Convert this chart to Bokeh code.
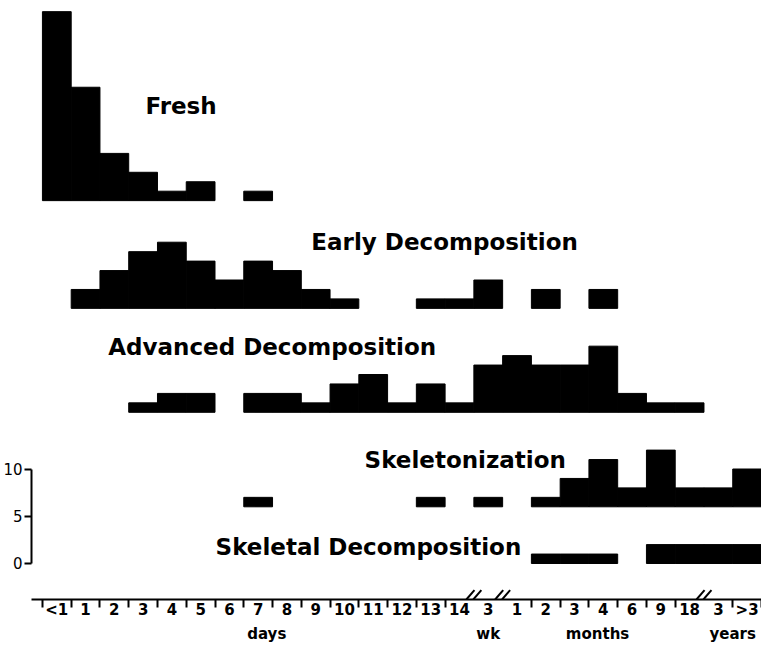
from bokeh.plotting import figure
from bokeh.models import Range1d, LinearAxis, FixedTicker, ColumnDataSource
from bokeh.core.properties import value
from bokeh.embed import file_html
from bokeh.resources import INLINE

# ---- data ----
tick_labels = ["<1", "1", "2", "3", "4", "5", "6", "7", "8", "9", "10", "11", "12", "13", "14",
               "3", "1", "2", "3", "4", "6", "9", "18", "3", ">3"]
group_names = ["days", "wk", "months", "years"]
series_names = ["Fresh", "Early Decomposition", "Advanced Decomposition",
                "Skeletonization", "Skeletal Decomposition"]
fresh = [20, 12, 5, 3, 1, 2, 0, 1, 0, 0, 0, 0, 0, 0, 0, 0, 0, 0, 0, 0, 0, 0, 0, 0, 0]
early = [0, 2, 4, 6, 7, 5, 3, 5, 4, 2, 1, 0, 0, 1, 1, 3, 0, 2, 0, 2, 0, 0, 0, 0, 0]
advanced = [0, 0, 0, 1, 2, 2, 0, 2, 2, 1, 3, 4, 1, 3, 1, 5, 6, 5, 5, 7, 2, 1, 1, 0, 0]
skeletonization = [0, 0, 0, 0, 0, 0, 0, 1, 0, 0, 0, 0, 0, 1, 0, 1, 0, 1, 3, 5, 2, 6, 2, 2, 4]
skeletal = [0, 0, 0, 0, 0, 0, 0, 0, 0, 0, 0, 0, 0, 0, 0, 0, 0, 1, 1, 1, 0, 2, 2, 2, 2]
scale_ticks = [0, 5, 10]

# ---- layout ----
row_base = [38.4, 27.0, 16.0, 6.0, 0.0]
label_x = [3.08, 8.85, 1.79, 10.7, 5.52]
label_y = [48.4, 34.0, 22.9, 10.95, 1.74]
group_pos = [7.3, 15.0, 18.8, 23.5]
break_edges = [14.5, 15.5, 22.5]
FONT = "DejaVu Sans"
Y_TOP, Y_BOT = 59.58, -3.81

series = [fresh, early, advanced, skeletonization, skeletal]

p = figure(frame_width=730, frame_height=599,
           x_range=Range1d(-0.88, 24.5), y_range=Range1d(Y_BOT, Y_TOP),
           output_backend="svg", toolbar_location=None,
           x_axis_location=None, y_axis_location=None,
           min_border=0, outline_line_color=None)
p.grid.visible = False

# bars
for vals, base in zip(series, row_base):
    left, right, bottom, top = [], [], [], []
    for i, v in enumerate(vals):
        if v > 0:
            left.append(i - 0.5)
            right.append(i + 0.5)
            bottom.append(base)
            top.append(base + v)
    src = ColumnDataSource(dict(left=left, right=right, bottom=bottom, top=top))
    p.quad(left="left", right="right", bottom="bottom", top="top", source=src,
           fill_color="black", line_color="black", line_width=1)

# row labels
lab_src = ColumnDataSource(dict(x=label_x, y=label_y, t=series_names))
p.text(x="x", y="y", text="t", source=lab_src, text_font=value(FONT),
       text_font_size="23px", text_font_style="bold", text_color="black",
       text_align="left", text_baseline="alphabetic")

# bottom axis: labels in bins, ticks at bin edges
n = len(tick_labels)
edges = [i - 0.5 for i in range(n + 1) if (i - 0.5) not in break_edges]
xa = LinearAxis(ticker=FixedTicker(ticks=list(range(n)), minor_ticks=edges),
                major_label_overrides={i: lab for i, lab in enumerate(tick_labels)},
                major_tick_out=0, major_tick_in=0,
                minor_tick_out=8, minor_tick_in=0,
                axis_line_width=2, minor_tick_line_width=2,
                major_label_standoff=-7,
                major_label_text_font=FONT, major_label_text_font_size="15px",
                major_label_text_font_style="bold",
                major_label_text_color="black")
p.add_layout(xa, "below")

ga = LinearAxis(ticker=FixedTicker(ticks=group_pos, minor_ticks=[]),
                major_label_overrides=dict(zip(group_pos, group_names)),
                axis_line_color=None, major_tick_line_color=None,
                minor_tick_line_color=None, major_tick_out=0, major_tick_in=0,
                major_label_standoff=3,
                major_label_text_font=FONT, major_label_text_font_size="15px",
                major_label_text_font_style="bold",
                major_label_text_color="black")
p.add_layout(ga, "below")

# scale bar on the left
ya = LinearAxis(bounds=(0, 10), ticker=FixedTicker(ticks=scale_ticks, minor_ticks=[]),
                major_tick_out=7, major_tick_in=0, minor_tick_line_color=None,
                axis_line_width=2, major_tick_line_width=2,
                major_label_standoff=2,
                major_label_text_font=FONT, major_label_text_font_size="15px",
                major_label_text_color="black")
p.add_layout(ya, "left")

# axis break marks
bx0, bx1, by0, by1 = [], [], [], []
for b in break_edges:
    for dx in (-0.12, 0.12):
        bx0.append(b + dx - 0.14)
        bx1.append(b + dx + 0.14)
        by0.append(Y_BOT)
        by1.append(Y_BOT + 1.0)
p.segment(x0=bx0, y0=by0, x1=bx1, y1=by1, line_color="black", line_width=2)

open("out.html", "w").write(file_html(p, INLINE))
